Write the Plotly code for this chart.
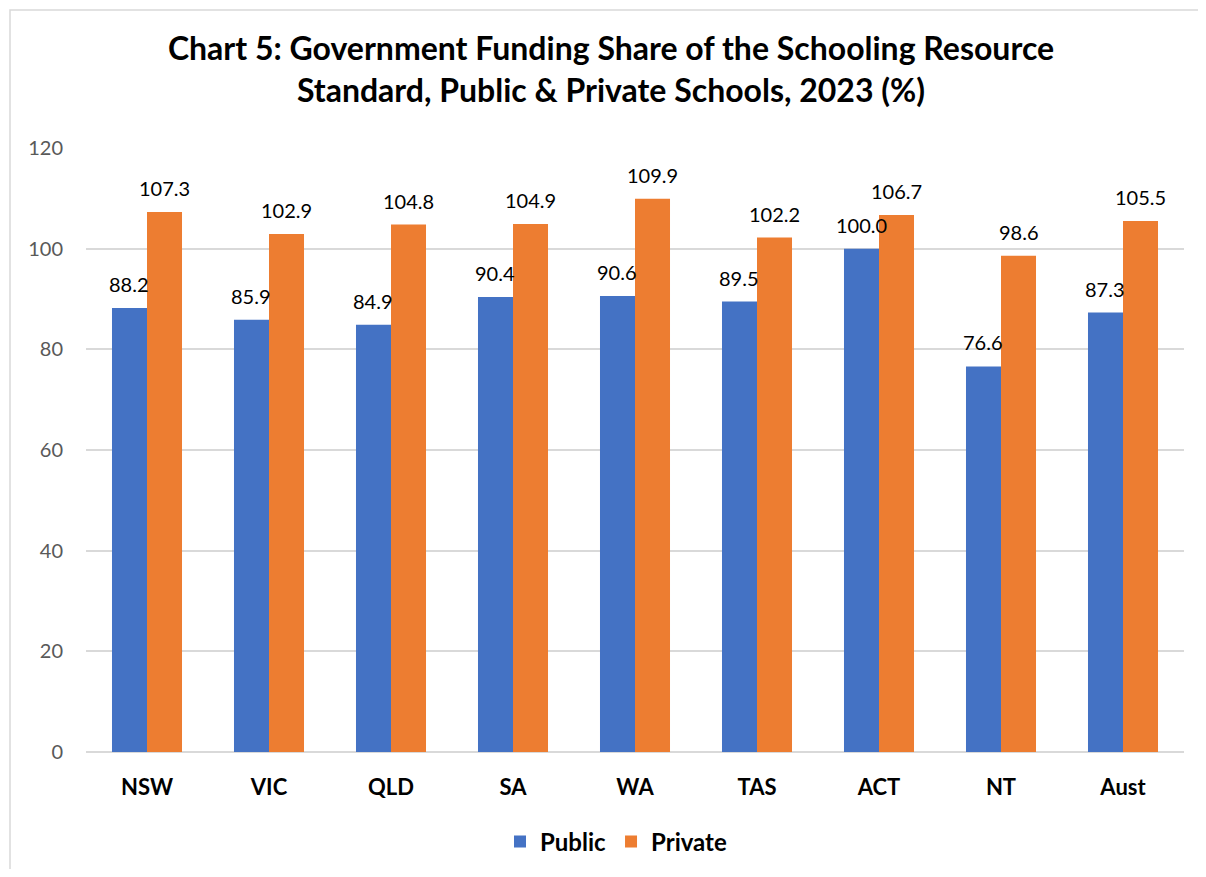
import plotly.graph_objects as go

categories = ["NSW", "VIC", "QLD", "SA", "WA", "TAS", "ACT", "NT", "Aust"]
public = [88.2, 85.9, 84.9, 90.4, 90.6, 89.5, 100.0, 76.6, 87.3]
private = [107.3, 102.9, 104.8, 104.9, 109.9, 102.2, 106.7, 98.6, 105.5]
y_ticks = [0, 20, 40, 60, 80, 100, 120]

BLUE = "#4472C4"
ORANGE = "#ED7D31"
FONT = "Lato"

OFF = 8  # page body margin
W, H = 1206 - 2 * OFF, 877 - 2 * OFF
ML, MR, MT, MB = 86 - OFF, W - (1184 - OFF), 148 - OFF, 0
AXIS_BOTTOM = 752 - OFF  # figure px of the value axis zero line
plot_w = W - ML - MR
paper_h = H - MT - MB
dom_lo = (H - MB - AXIS_BOTTOM) / paper_h

fig = go.Figure()
fig.add_trace(go.Bar(name="<b>Public</b>", x=categories, y=public, marker_color=BLUE,
                     marker_line_width=0))
fig.add_trace(go.Bar(name="<b>Private</b>", x=categories, y=private, marker_color=ORANGE,
                     marker_line_width=0))

bargap = 0.426
cat_w = plot_w / len(categories)
bar_w = cat_w * (1 - bargap) / 2

annotations = []
for series, sign in ((public, -1), (private, 1)):
    for c, v in zip(categories, series):
        annotations.append(dict(x=c, y=v, xref="x", yref="y", text=f"{v:.1f}",
                                showarrow=False, xshift=sign * bar_w / 2, yshift=10,
                                yanchor="bottom",
                                font=dict(family=FONT, size=20, color="#000000")))

def px_x(p):
    # p in screen pixels
    return (p - OFF - ML) / plot_w

def px_y(p):
    return (H - MB - (p - OFF)) / paper_h

fig.update_layout(
    width=W, height=H,
    margin=dict(l=ML, r=MR, t=MT, b=MB),
    paper_bgcolor="white", plot_bgcolor="white",
    barmode="group", bargap=bargap, bargroupgap=0,
    title=dict(
        text="<b>Chart 5: Government Funding Share of the Schooling Resource<br>Standard, Public &amp; Private Schools, 2023 (%)</b>",
        x=px_x(611), xref="paper", xanchor="center",
        y=1 - 52 / H, yref="container", yanchor="top",
        font=dict(family=FONT, size=32, color="#000000"),
    ),
    font=dict(family=FONT),
    showlegend=True,
    legend=dict(orientation="h", x=px_x(616), xanchor="center",
                y=px_y(842), yanchor="middle",
                font=dict(family=FONT, size=24, color="#000000"),
                itemclick=False),
    xaxis=dict(
        showgrid=False, showline=False, ticks="",
        tickfont=dict(family=FONT, size=22, color="#000000", weight="bold"),
        ticklabelstandoff=20, automargin=False,
    ),
    yaxis=dict(
        domain=[dom_lo, 1],
        range=[0, 120], tickvals=y_ticks,
        showgrid=True, gridcolor="#D9D9D9", gridwidth=1.5,
        zeroline=True, zerolinecolor="#D9D9D9", zerolinewidth=1.5,
        showline=False, ticks="",
        tickfont=dict(family=FONT, size=20, color="#595959"),
        ticklabelstandoff=22, automargin=False,
    ),
    annotations=annotations,
    shapes=[dict(type="rect", xref="paper", yref="paper",
                 x0=px_x(10), x1=px_x(1206 + 40), y0=px_y(877 + 40), y1=px_y(10),
                 line=dict(color="#D9D9D9", width=1.5), fillcolor="rgba(0,0,0,0)",
                 layer="below")],
)

fig.write_html("out.html")
